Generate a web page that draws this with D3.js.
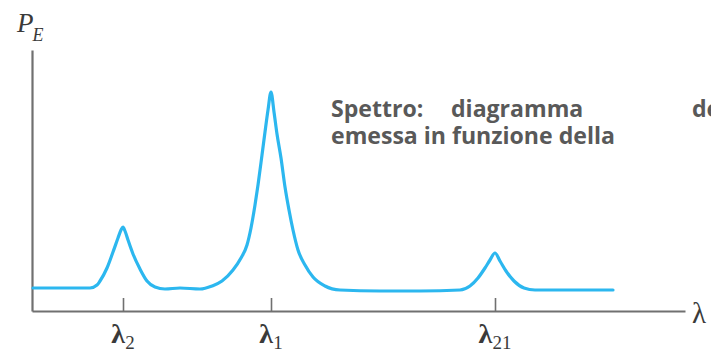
<!DOCTYPE html>
<html>
<head>
<meta charset="utf-8">
<script src="https://cdn.jsdelivr.net/npm/d3@7/dist/d3.min.js"></script>
<style>
  html, body { margin: 0; padding: 0; background: #fff; overflow: hidden; }
  svg { display: block; }
</style>
</head>
<body>
<svg id="chart" width="711" height="356"></svg>
<script>
// Emission spectrum: wavelength (arbitrary units) vs emitted power (arbitrary units)
const wavelength = [1, 28, 58, 65, 68, 75, 81, 86, 89, 91, 93, 96, 101, 108, 115, 123, 133, 148, 168,
  180, 190, 201, 209, 215, 219, 223, 226, 230, 233, 236, 239, 242, 245, 249, 253, 257, 261, 266,
  273, 281, 293, 308, 348, 388, 428, 438, 446, 453, 458, 463, 468, 474, 482, 492, 503, 548, 581];
const power = [23, 23, 23, 26, 30, 43, 59, 73, 81, 84, 80, 71, 57, 42, 30, 24, 22, 23, 22,
  25, 30, 41, 53, 66, 83, 106, 126, 156, 179, 201, 219, 199, 177, 153, 124, 101, 81, 61,
  46, 34, 25, 21, 20, 20, 21, 25, 33, 43, 51, 58, 50, 40, 30, 23, 21, 21, 21];

// Spectral lines marked on the wavelength axis
const lineNames = ["2", "1", "21"];
const lineWavelengths = [91, 239, 463];

const xDomain = [0, 653];
const yDomain = [0, 261];

const svg = d3.select("#chart");
const margin = { left: 32, right: 26, top: 50, bottom: 45 };
const W = 711, H = 356;

const x = d3.scaleLinear().domain(xDomain).range([margin.left, W - margin.right]);
const y = d3.scaleLinear().domain(yDomain).range([H - margin.bottom, margin.top]);

const axisColor = "#707070";
const textColor = "#3a3a3a";

// Wavelength axis with inward tick marks at the spectral lines
const xAxis = svg.append("g")
  .attr("transform", `translate(0,${y(0)})`)
  .call(d3.axisBottom(x).tickValues(lineWavelengths).tickSizeInner(-13).tickSizeOuter(0).tickFormat(""));
xAxis.select(".domain").attr("stroke", axisColor).attr("stroke-width", 2.2);
xAxis.selectAll(".tick line").attr("stroke", axisColor).attr("stroke-width", 1.6);

// Power axis (line only)
const yAxis = svg.append("g")
  .attr("transform", `translate(${x(0)},0)`)
  .call(d3.axisLeft(y).tickValues([]).tickSizeOuter(0));
yAxis.select(".domain").attr("stroke", axisColor).attr("stroke-width", 2.2);

// Tick labels: λ with subscript
const serif = "'Liberation Serif', 'Times New Roman', serif";
lineWavelengths.forEach((w, i) => {
  const t = svg.append("text")
    .attr("x", x(w))
    .attr("y", 343)
    .attr("text-anchor", "middle")
    .attr("font-family", serif)
    .attr("fill", textColor);
  t.append("tspan").attr("font-size", 28).attr("font-weight", "bold").text("λ");
  t.append("tspan").attr("font-size", 19).attr("dy", 6).text(lineNames[i]);
});

// Axis titles
svg.append("text")
  .attr("x", 692).attr("y", 323)
  .attr("font-family", serif).attr("font-size", 29)
  .attr("fill", textColor).text("λ");

const pe = svg.append("text")
  .attr("x", 17).attr("y", 32)
  .attr("font-family", serif).attr("font-style", "italic")
  .attr("fill", textColor);
pe.append("tspan").attr("font-size", 27).text("P");
pe.append("tspan").attr("font-size", 18).attr("dy", 9).attr("dx", -1).text("E");

// Spectrum curve
const line = d3.line()
  .x((d, i) => x(wavelength[i]))
  .y(d => y(d))
  .curve(d3.curveMonotoneX);

svg.append("path")
  .datum(power)
  .attr("d", line)
  .attr("fill", "none")
  .attr("stroke", "#2cb7ef")
  .attr("stroke-width", 3.2)
  .attr("stroke-linejoin", "round")
  .attr("stroke-linecap", "round");

// Caption, sized so the second line spans its box width
const capFont = "'Open Sans', Lato, sans-serif";
const caption = svg.append("g")
  .attr("font-family", capFont)
  .attr("font-weight", "bold")
  .attr("font-size", 20)
  .attr("fill", "#595959");
const second = caption.append("text").attr("x", 331).attr("y", 144).text("emessa in funzione della");
const size = 20 * 284 / second.node().getComputedTextLength();
caption.attr("font-size", size);
caption.append("text").attr("x", 331).attr("y", 117).text("Spettro:");
caption.append("text").attr("x", 451).attr("y", 117).text("diagramma");
caption.append("text").attr("x", 692).attr("y", 117).text("della");
</script>
</body>
</html>
